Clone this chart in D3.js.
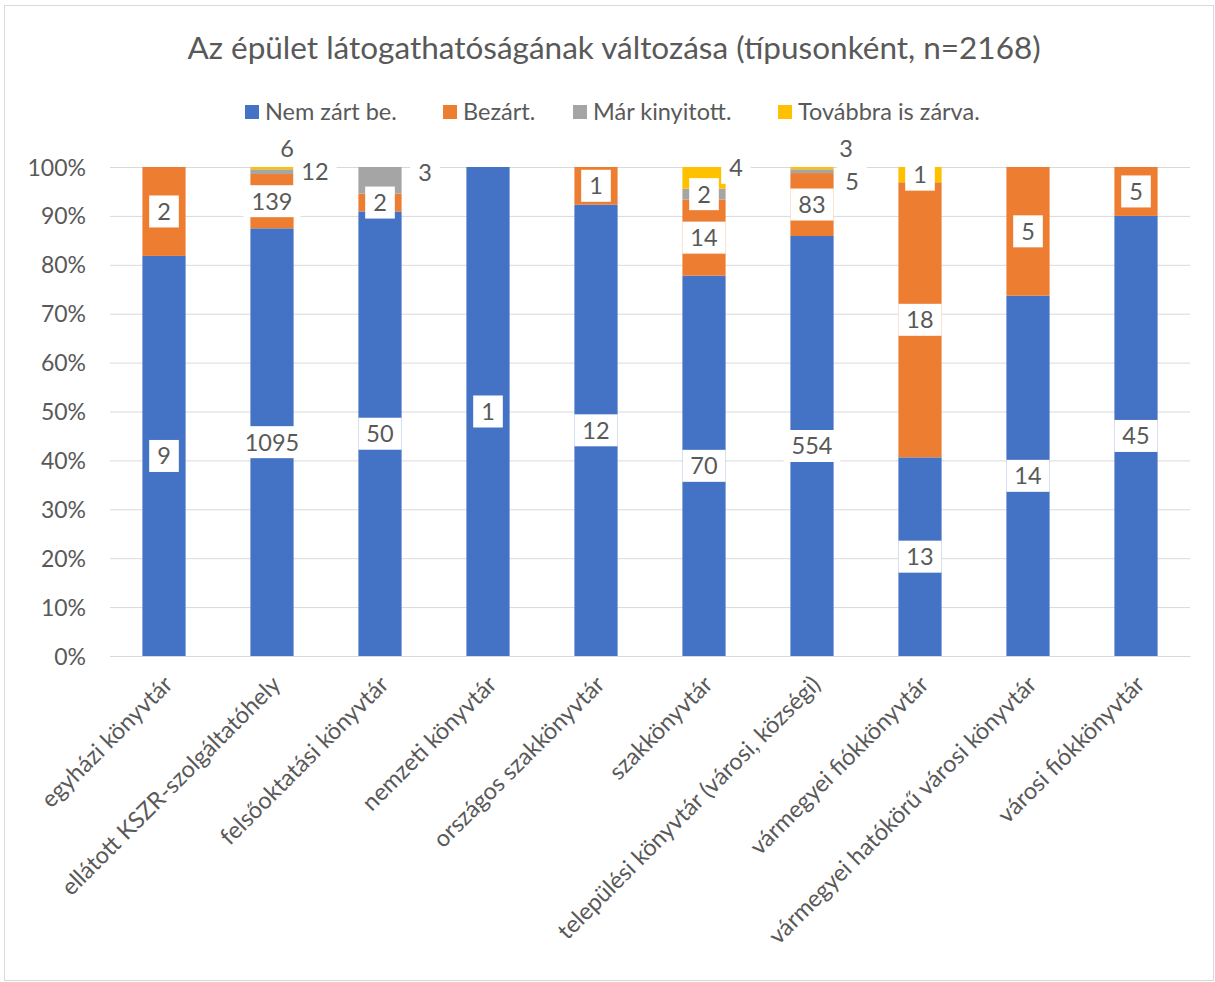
<!DOCTYPE html>
<html lang="hu">
<head>
<meta charset="UTF-8">
<script src="https://d3js.org/d3.v7.min.js"></script>
<title>Az épület látogathatóságának változása</title>
<style>
  body { margin: 0; background: #fff; }
  text { font-family: Lato, "Open Sans", sans-serif; fill: #595959; }
</style>
</head>
<body>
<svg id="chart" width="1215" height="982"></svg>
<script>
// categories and series
const categories = ["egyházi könyvtár", "ellátott KSZR-szolgáltatóhely", "felsőoktatási könyvtár",
  "nemzeti könyvtár", "országos szakkönyvtár", "szakkönyvtár", "települési könyvtár (városi, községi)",
  "vármegyei fiókkönyvtár", "vármegyei hatókörű városi könyvtár", "városi fiókkönyvtár"];
const seriesNames = ["Nem zárt be.", "Bezárt.", "Már kinyitott.", "Továbbra is zárva."];
const nemZart   = [9, 1095, 50, 1, 12, 70, 554, 13, 14, 45];
const bezart    = [2, 139, 2, 0, 1, 14, 83, 18, 5, 5];
const marNyitott = [0, 12, 3, 0, 0, 2, 5, 0, 0, 0];
const zarva     = [0, 6, 0, 0, 0, 4, 3, 1, 0, 0];
const yTicks = [0, 0.1, 0.2, 0.3, 0.4, 0.5, 0.6, 0.7, 0.8, 0.9, 1];
const colors = ["#4472C4", "#ED7D31", "#A5A5A5", "#FFC000"];

// labels Excel moved off the segment (category-series -> dx, dy)
const labelShift = { "1-2": [43, 0], "1-3": [15, -20], "2-2": [45, -8], "5-3": [32, -10], "6-2": [40, 10], "6-3": [34, -20] };

const svg = d3.select("#chart");
svg.append("rect").attr("x", 4.5).attr("y", 5.5).attr("width", 1209).attr("height", 975)
  .attr("fill", "#fff").attr("stroke", "#d9d9d9");

const rows = categories.map((c, i) => ({ cat: c, s0: nemZart[i], s1: bezart[i], s2: marNyitott[i], s3: zarva[i] }));
const keys = ["s0", "s1", "s2", "s3"];
const stacked = d3.stack().keys(keys).offset(d3.stackOffsetExpand)(rows);

const x = d3.scaleBand().domain(categories).range([110, 1190]).paddingInner(0.6).paddingOuter(0.3);
const y = d3.scaleLinear().domain([0, 1]).range([656, 167]);

// title
svg.append("text").attr("x", 614).attr("y", 59).attr("text-anchor", "middle")
  .style("font-size", "31.5px").text("Az épület látogathatóságának változása (típusonként, n=2168)");

// legend
const legendX = [245, 443, 573, 778];
seriesNames.forEach((n, i) => {
  svg.append("rect").attr("x", legendX[i]).attr("y", 105).attr("width", 14).attr("height", 14).attr("fill", colors[i]);
  svg.append("text").attr("x", legendX[i] + 20).attr("y", 120).style("font-size", "23.5px").text(n);
});

// grid + y axis
const yAxis = svg.append("g").attr("transform", "translate(110,0)")
  .call(d3.axisLeft(y).tickValues(yTicks).tickFormat(d3.format(".0%")).tickSize(-1080).tickPadding(24));
yAxis.select(".domain").remove();
yAxis.selectAll("line").attr("stroke", "#d9d9d9");
yAxis.selectAll("text").style("font-size", "23px").attr("fill", "#595959").attr("dy", "0.35em");

// bars
const g = svg.append("g");
stacked.forEach((layer, si) => {
  g.selectAll(null).data(layer).join("rect")
    .attr("x", d => x(d.data.cat))
    .attr("width", x.bandwidth())
    .attr("y", d => y(d[1]))
    .attr("height", d => y(d[0]) - y(d[1]))
    .attr("fill", colors[si]);
});

// x axis
const xAxis = svg.append("g").attr("transform", "translate(0,656)")
  .call(d3.axisBottom(x).tickSize(0).tickPadding(0));
xAxis.select(".domain").attr("stroke", "#d9d9d9");
xAxis.selectAll("text").style("font-size", "23.5px").attr("fill", "#595959")
  .attr("text-anchor", "end").attr("dy", 0)
  .attr("transform", "translate(10,30) rotate(-45)");

// data labels
const labels = svg.append("g");
stacked.forEach((layer, si) => {
  layer.forEach((d, ci) => {
    const v = d.data[keys[si]];
    if (!v) return;
    const sh = labelShift[ci + "-" + si] || [0, 0];
    const cx = x(d.data.cat) + x.bandwidth() / 2 + sh[0];
    const cy = (y(d[0]) + y(d[1])) / 2 + sh[1];
    const t = labels.append("text").attr("x", cx).attr("y", cy).attr("dy", "0.36em")
      .attr("text-anchor", "middle").style("font-size", "23.5px").attr("fill", "#404040").text(v);
    const bb = t.node().getBBox();
    labels.insert("rect", "text:last-child")
      .attr("x", bb.x - 8).attr("y", cy - 16).attr("width", bb.width + 16).attr("height", 32)
      .attr("fill", "#fff");
  });
});
</script>
</body>
</html>
